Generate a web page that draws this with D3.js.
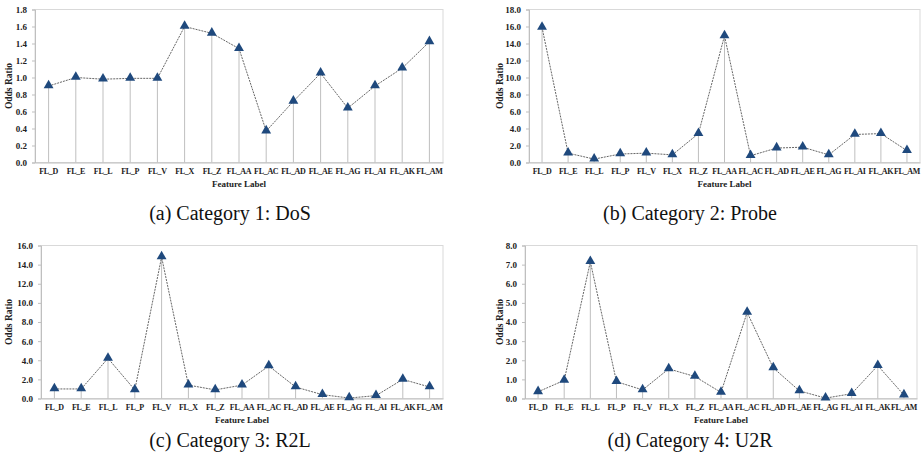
<!DOCTYPE html>
<html>
<head>
<meta charset="utf-8">
<script src="https://cdn.jsdelivr.net/npm/d3@7"></script>
<style>
  body { margin: 0; background: #fff; }
</style>
</head>
<body>
<div id="chart"></div>
<script>
var features = ["FL_D", "FL_E", "FL_L", "FL_P", "FL_V", "FL_X", "FL_Z", "FL_AA",
                "FL_AC", "FL_AD", "FL_AE", "FL_AG", "FL_AI", "FL_AK", "FL_AM"];

var dosValues   = [0.90, 1.00, 0.98, 0.99, 0.99, 1.60, 1.52, 1.34, 0.37, 0.72, 1.05, 0.64, 0.90, 1.11, 1.42];
var probeValues = [15.9, 1.1, 0.4, 1.0, 1.1, 0.9, 3.4, 14.9, 0.8, 1.7, 1.8, 0.9, 3.3, 3.4, 1.4];
var r2lValues   = [1.0, 1.0, 4.2, 0.9, 14.8, 1.4, 0.9, 1.4, 3.4, 1.2, 0.4, 0.05, 0.3, 2.0, 1.2];
var u2rValues   = [0.35, 0.95, 7.15, 0.88, 0.45, 1.55, 1.15, 0.32, 4.5, 1.6, 0.4, 0.02, 0.25, 1.72, 0.18];

var captions = ["(a) Category 1: DoS", "(b) Category 2: Probe", "(c) Category 3: R2L", "(d) Category 4: U2R"];
var yMaxes = [1.8, 18, 16, 8];
var yTicks = [d3.range(0, 1.81, 0.2), d3.range(0, 18.1, 2), d3.range(0, 16.1, 2), d3.range(0, 8.1, 1)];

var font = "Liberation Serif";

var panels = [
  {vals: dosValues,   box: {l: 35,  r: 443, t: 9.5,   b: 162.5}, capX: 230, capY: 220, labX: 12},
  {vals: probeValues, box: {l: 529, r: 920, t: 9.5,   b: 162.5}, capX: 690, capY: 220, labX: 503},
  {vals: r2lValues,   box: {l: 41,  r: 443, t: 245.5, b: 398.5}, capX: 230, capY: 447, labX: 12},
  {vals: u2rValues,   box: {l: 525, r: 917, t: 245.5, b: 398.5}, capX: 690, capY: 447, labX: 503}
];

var svg = d3.select("#chart").append("svg")
    .attr("width", 923)
    .attr("height", 462);

panels.forEach(function(p, i) {
  var b = p.box;
  var g = svg.append("g");

  var x = d3.scaleBand().domain(features).range([b.l, b.r]);
  var y = d3.scaleLinear().domain([0, yMaxes[i]]).range([b.b, b.t]);

  // plot frame
  g.append("rect")
    .attr("x", b.l).attr("y", b.t)
    .attr("width", b.r - b.l).attr("height", b.b - b.t)
    .attr("fill", "none").attr("stroke", "#d9d9d9").attr("stroke-width", 1);

  var yAxis = g.append("g")
    .attr("transform", "translate(" + b.l + ",0)")
    .call(d3.axisLeft(y).tickValues(yTicks[i]).tickSize(3).tickFormat(d3.format(".1f")));
  yAxis.attr("font-family", font).attr("font-size", 9).attr("font-weight", "bold");
  yAxis.select(".domain").attr("stroke", "#bfbfbf");
  yAxis.selectAll(".tick line").attr("stroke", "#bfbfbf");
  yAxis.selectAll("text").attr("x", -8).attr("fill", "#222");

  var xAxis = g.append("g")
    .attr("transform", "translate(0," + b.b + ")")
    .call(d3.axisBottom(x).tickSize(0));
  xAxis.attr("font-family", font).attr("font-size", 8).attr("font-weight", "bold");
  xAxis.select(".domain").attr("stroke", "#bfbfbf");
  xAxis.selectAll("text")
    .attr("dy", "0.71em").attr("y", 6)
    .attr("letter-spacing", "-0.3")
    .attr("fill", "#222");

  g.append("text")
    .attr("x", (b.l + b.r) / 2).attr("y", b.b + 24)
    .attr("text-anchor", "middle")
    .attr("font-family", font).attr("font-size", 9).attr("font-weight", "bold").attr("fill", "#222")
    .text("Feature Label");

  g.append("text")
    .attr("transform", "translate(" + p.labX + "," + ((b.t + b.b) / 2) + ") rotate(-90)")
    .attr("text-anchor", "middle")
    .attr("font-family", font).attr("font-size", 9.5).attr("font-weight", "bold").attr("fill", "#222")
    .text("Odds Ratio");

  var cx = function(d, j) { return x(features[j]) + x.bandwidth() / 2; };

  // drop lines
  g.selectAll(".drop").data(p.vals).enter()
    .append("line")
    .attr("class", "drop")
    .attr("x1", cx).attr("x2", cx)
    .attr("y1", function(d) { return y(d); }).attr("y2", b.b)
    .attr("stroke", "#bfbfbf").attr("stroke-width", 1);

  var line = d3.line()
    .x(cx)
    .y(function(d) { return y(d); });

  g.append("path")
    .datum(p.vals)
    .attr("d", line)
    .attr("fill", "none")
    .attr("stroke", "#555")
    .attr("stroke-width", 0.9)
    .attr("stroke-dasharray", "2,1");

  var tri = d3.symbol().type(d3.symbolTriangle).size(42);
  g.selectAll(".mark").data(p.vals).enter()
    .append("path")
    .attr("class", "mark")
    .attr("d", tri)
    .attr("transform", function(d, j) { return "translate(" + cx(d, j) + "," + (y(d) - 0.5) + ")"; })
    .attr("fill", "#1f497d");

  svg.append("text")
    .attr("x", p.capX).attr("y", p.capY)
    .attr("text-anchor", "middle")
    .attr("font-family", font)
    .attr("font-size", 20).attr("fill", "#111")
    .text(captions[i]);
});
</script>
</body>
</html>
